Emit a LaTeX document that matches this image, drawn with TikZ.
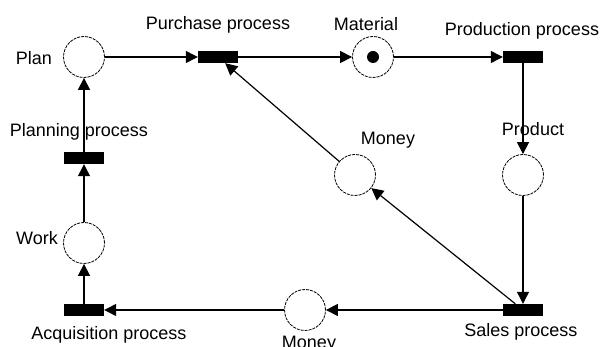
\documentclass[tikz,border=0pt]{standalone}
\usepackage{fontspec}
\setmainfont{Liberation Sans}
\usetikzlibrary{arrows.meta}

\begin{document}
\begin{tikzpicture}[x=1pt, y=-1pt,
		place/.style={circle, draw, line width=0.8pt, dash pattern=on 3pt off 1pt, minimum size=41pt, inner sep=0pt},
		trans/.style={rectangle, fill=black, minimum width=40pt, minimum height=12pt, inner sep=0pt},
		tag/.style={font=\fontsize{18}{21}\selectfont, inner sep=0pt},
		arc/.style={line width=1.2pt, -{Triangle[length=12pt,width=12pt]}}]
		%%%%% START %%%%%
		
		\useasboundingbox (0, 0) rectangle (603, 347);
		
		% places
		\node[place] (plan) at (84, 57) {};
		\node[place] (material) at (373, 57) {};
		\node[place] (product) at (523, 175) {};
		\node[place] (moneymid) at (355, 175) {};
		\node[place] (moneylow) at (305, 310) {};
		\node[place] (work) at (84, 243) {};
		\fill (material) circle (6);
		
		% transitions
		\node[trans] (purchase) at (218, 57) {};
		\node[trans] (production) at (523, 57) {};
		\node[trans] (sales) at (523, 310) {};
		\node[trans] (acquisition) at (84, 310) {};
		\node[trans] (planning) at (84, 158) {};
		
		% labels
		\node[tag] (planlbl) at (34, 58) {Plan};
		\node[tag] (purchaselbl) at (218, 25) {Purchase process};
		\node[tag] (materiallbl) at (366, 24) {Material};
		\node[tag] (productionlbl) at (522, 31) {Production process};
		\node[tag] (productlbl) at (533, 129) {Product};
		\node[tag] (moneymidlbl) at (388, 140) {Money};
		\node[tag] (planninglbl) at (79, 132) {Planning process};
		\node[tag] (worklbl) at (37, 238) {Work};
		\node[tag] (acquisitionlbl) at (109, 335) {Acquisition process};
		\node[tag] (saleslbl) at (521, 332) {Sales process};
		\node[tag] (moneylowlbl) at (309, 344) {Money};
		
		% arcs
		\draw[arc] (plan) -- (purchase);
		\draw[arc] (purchase) -- (material);
		\draw[arc] (material) -- (production);
		\draw[arc] (production) -- (product);
		\draw[arc] (product) -- (sales);
		\draw[arc] (sales) -- (moneymid);
		\draw[arc] (moneymid) -- (purchase);
		\draw[arc] (sales) -- (moneylow);
		\draw[arc] (moneylow) -- (acquisition);
		\draw[arc] (acquisition) -- (work);
		\draw[arc] (work) -- (planning);
		\draw[arc] (planning) -- (plan);
		
		%%%%% END %%%%%
	\end{tikzpicture}
\end{document}
